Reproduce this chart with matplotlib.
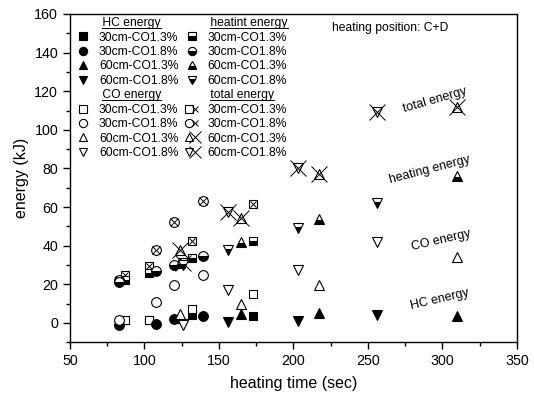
import matplotlib
matplotlib.use("Agg")
import matplotlib.pyplot as plt
from matplotlib.ticker import MultipleLocator
from matplotlib.lines import Line2D
from matplotlib.legend_handler import HandlerTuple

plt.rcParams['font.family'] = ['Liberation Sans', 'DejaVu Sans']

# heating times (sec) for each condition
x30_13 = [87, 103, 132, 173]
x30_18 = [83, 108, 120, 139]
x60_13 = [124, 165, 217, 310]
x60_18 = [126, 156, 203, 256]

# HC energy (kJ)
hc30_13 = [1.5, 1.5, 4.0, 3.5]
hc30_18 = [-1.0, -0.5, 2.2, 3.8]
hc60_13 = [2.5, 4.7, 5.2, 3.8]
hc60_18 = [-0.5, 0.5, 1.2, 4.0]

# CO energy (kJ)
co30_13 = [1.5, 1.7, 7.4, 15.0]
co30_18 = [1.5, 11.0, 19.5, 25.0]
co60_13 = [4.7, 9.8, 19.8, 34.0]
co60_18 = [-1.0, 17.2, 27.6, 41.7]

# heating energy (kJ)
heat30_13 = [22.0, 26.0, 33.5, 42.5]
heat30_18 = [21.0, 27.0, 30.0, 34.8]
heat60_13 = [31.0, 42.0, 53.8, 76.0]
heat60_18 = [30.0, 38.0, 49.0, 62.0]

# total energy (kJ)
tot30_13 = [25.0, 29.6, 42.6, 61.5]
tot30_18 = [22.0, 38.0, 52.2, 63.4]
tot60_13 = [38.0, 54.3, 77.0, 112.0]
tot60_18 = [31.0, 57.7, 80.2, 109.0]

cond_labels = ['30cm-CO1.3%', '30cm-CO1.8%', '60cm-CO1.3%', '60cm-CO1.8%']
titles = ['HC energy', 'CO energy', 'heatint energy', 'total energy']
xs = [x30_13, x30_18, x60_13, x60_18]
hcs = [hc30_13, hc30_18, hc60_13, hc60_18]
cos = [co30_13, co30_18, co60_13, co60_18]
heats = [heat30_13, heat30_18, heat60_13, heat60_18]
tots = [tot30_13, tot30_18, tot60_13, tot60_18]
markers = ['s', 'o', '^', 'v']
msizes = [6, 7, 7.5, 7.5]

fig = plt.figure(figsize=(5.34, 3.98), dpi=100)
ax = fig.add_axes([0.131, 0.14, 0.837, 0.825])

hc_h, co_h, heat_h, tot_h = [], [], [], []
for i in range(4):
    m, ms = markers[i], msizes[i]
    # total energy: open marker with a cross on top
    ax.plot(xs[i], tots[i], ls='none', marker=m, ms=ms, mfc='none', mec='k', mew=0.8)
    xs_ms = ms * 0.8 if i < 2 else ms * 1.5
    ax.plot(xs[i], tots[i], ls='none', marker='x', ms=xs_ms, mec='k', mew=0.7)
    # heating energy: half filled
    ax.plot(xs[i], heats[i], ls='none', marker=m, ms=ms, fillstyle='bottom',
            mfc='k', mfcalt='white', mec='k', mew=0.8)
    # HC energy: filled
    ax.plot(xs[i], hcs[i], ls='none', marker=m, ms=ms, mfc='k', mec='k', mew=0.8)
    # CO energy: open
    ax.plot(xs[i], cos[i], ls='none', marker=m, ms=ms, mfc='white', mec='k', mew=0.8)

    lms = ms * 0.85
    hc_h.append(Line2D([], [], ls='none', marker=m, ms=lms, mfc='k', mec='k', mew=0.8))
    co_h.append(Line2D([], [], ls='none', marker=m, ms=lms, mfc='white', mec='k', mew=0.8))
    heat_h.append(Line2D([], [], ls='none', marker=m, ms=lms, fillstyle='bottom',
                         mfc='k', mfcalt='white', mec='k', mew=0.8))
    lx = lms * 0.8 if i < 2 else lms * 1.3
    tot_h.append((Line2D([], [], ls='none', marker=m, ms=lms, mfc='none', mec='k', mew=0.8),
                  Line2D([], [], ls='none', marker='x', ms=lx, mec='k', mew=0.7)))

blank = Line2D([], [], ls='none')
handles = [blank] + hc_h + [blank] + co_h + [blank] + heat_h + [blank] + tot_h
labels = ([' ' + titles[0]] + cond_labels + [' ' + titles[1]] + cond_labels +
          [' ' + titles[2]] + cond_labels + [' ' + titles[3]] + cond_labels)
leg = ax.legend(handles, labels, ncol=2, loc='upper left', frameon=False,
                fontsize=8.7, handlelength=1.0, handletextpad=0.8, columnspacing=0.6,
                labelspacing=0.2, borderaxespad=0.2, bbox_to_anchor=(0.0, 1.012),
                handler_map={tuple: HandlerTuple(ndivide=None, pad=0)})

ax.text(265, 152.6, 'heating position: C+D', fontsize=8.7, ha='center', va='center')
ax.text(295, 115.5, 'total energy', fontsize=9, rotation=16, ha='center', va='center')
ax.text(291.5, 79.3, 'heating energy', fontsize=9, rotation=14.5, ha='center', va='center')
ax.text(299, 42.7, 'CO energy', fontsize=9, rotation=13, ha='center', va='center')
ax.text(298.5, 12.4, 'HC energy', fontsize=9, rotation=13, ha='center', va='center')

ax.set_xlim(50, 350)
ax.set_ylim(-10, 160)
ax.xaxis.set_major_locator(MultipleLocator(50))
ax.xaxis.set_minor_locator(MultipleLocator(25))
ax.yaxis.set_major_locator(MultipleLocator(20))
ax.yaxis.set_minor_locator(MultipleLocator(10))
ax.tick_params(which='major', direction='out', length=5, width=1, labelsize=10.3)
ax.tick_params(which='minor', direction='out', length=3, width=1)
for s in ax.spines.values():
    s.set_linewidth(1.0)
ax.set_xlabel('heating time (sec)', fontsize=11.5, labelpad=6)
ax.set_ylabel('energy (kJ)', fontsize=11.5, labelpad=4)

# underline the group titles in the legend
fig.canvas.draw()
r = fig.canvas.get_renderer()
inv = fig.transFigure.inverted()
for t in leg.get_texts():
    if t.get_text().strip() in titles:
        bb = t.get_window_extent(r)
        # skip the leading space
        x0 = bb.x0 + 3
        (fx0, fy), (fx1, _) = inv.transform([(x0, bb.y0 + 1), (bb.x1, bb.y0 + 1)])
        fig.add_artist(Line2D([fx0, fx1], [fy, fy], color='k', lw=0.7))

fig.savefig('out.png', dpi=100)
